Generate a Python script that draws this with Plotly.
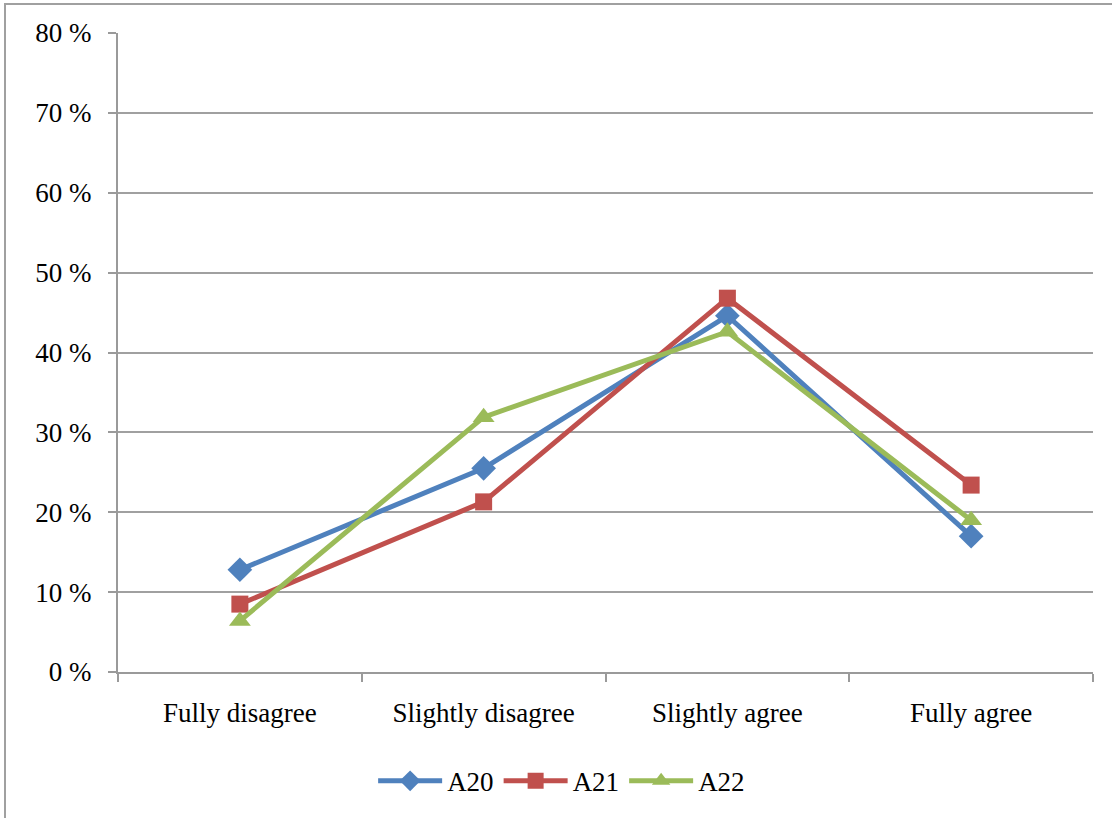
import plotly.graph_objects as go

categories = ["Fully disagree", "Slightly disagree", "Slightly agree", "Fully agree"]
a20 = [12.8, 25.5, 44.6, 17.0]
a21 = [8.5, 21.3, 46.8, 23.4]
a22 = [6.4, 31.9, 42.6, 19.0]
y_ticks = [0, 10, 20, 30, 40, 50, 60, 70, 80]
y_ticktext = ["0 %", "10 %", "20 %", "30 %", "40 %", "50 %", "60 %", "70 %", "80 %"]

series = [
    ("A20", a20, "#4F81BD", "diamond", 19),
    ("A21", a21, "#C0504D", "square", 17),
    ("A22", a22, "#9BBB59", "triangle-up", 19),
]

fig = go.Figure()
for name, vals, color, sym, size in series:
    fig.add_trace(go.Scatter(
        x=categories, y=vals, name=name, mode="lines+markers",
        line=dict(color=color, width=5),
        marker=dict(symbol=sym, size=size, color=color),
    ))

L, R, T, B = 118, 19, 33, 146
W, H = 1112, 818
pw, ph = W - L - R, H - T - B

fig.update_layout(
    width=W, height=H,
    margin=dict(l=L, r=R, t=T, b=B),
    paper_bgcolor="white", plot_bgcolor="white",
    font=dict(family="Liberation Serif", size=27, color="black"),
    showlegend=True,
    legend=dict(orientation="h", x=0.455, xanchor="center", y=-0.171, yanchor="middle",
                font=dict(size=27), itemwidth=64, tracegroupgap=0),
    xaxis=dict(type="category", range=[-0.5, 3.5], showgrid=False,
               showline=True, linecolor="#9A9A9A", linewidth=2,
               ticks="outside", tickson="boundaries", ticklen=8, tickcolor="#9A9A9A",
               tickwidth=2, ticklabelstandoff=16),
    yaxis=dict(range=[0, 80], tickvals=y_ticks, ticktext=y_ticktext,
               showgrid=True, gridcolor="#A0A0A0", gridwidth=1.5,
               showline=True, linecolor="#9A9A9A", linewidth=2,
               ticks="outside", ticklen=8, tickcolor="#9A9A9A", tickwidth=2,
               ticklabelstandoff=11, zeroline=False),
)

# outer chart border
fig.add_shape(type="rect", xref="paper", yref="paper",
              x0=(5 - L) / pw, x1=(W + 20 - L) / pw,
              y0=-(B + 20) / ph, y1=1 + (T - 4) / ph,
              line=dict(color="#A0A0A0", width=2), fillcolor="rgba(0,0,0,0)", layer="below")

fig.write_html("out.html",
               config={"displayModeBar": False},
               post_script="document.body.style.margin='0';document.body.style.overflow='hidden';")
